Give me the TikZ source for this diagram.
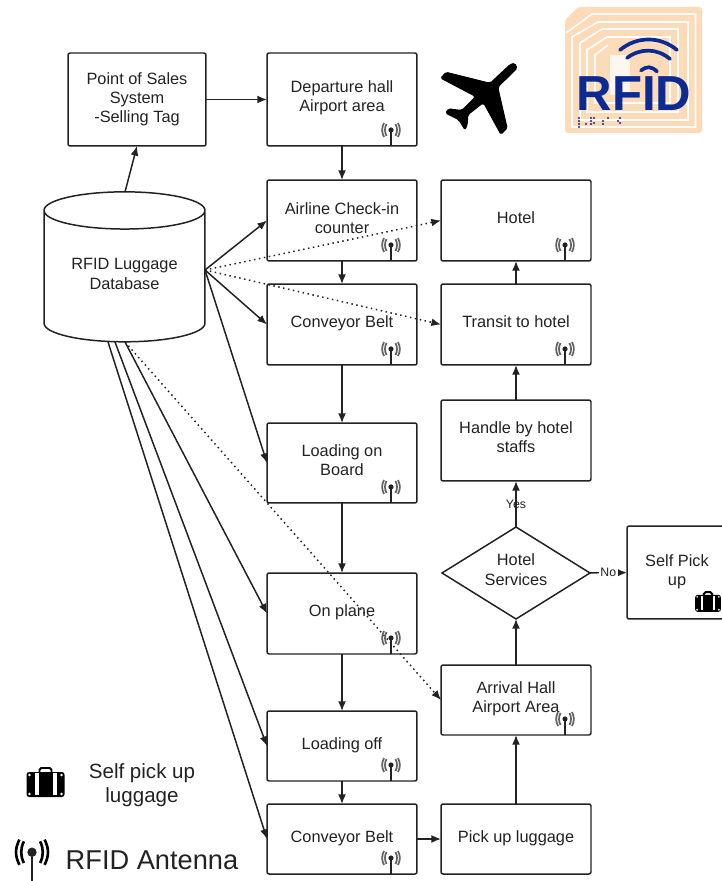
\documentclass[tikz,border=0pt]{standalone}
\usepackage{fontspec}
\setmainfont{Liberation Sans}
\usetikzlibrary{shapes.geometric,arrows.meta}
\definecolor{peche}{HTML}{FDDAB8}
\definecolor{bleurfid}{HTML}{0B2A94}
\definecolor{encre}{HTML}{222222}
\tikzset{
  boite/.style={draw=encre,line width=0.85pt,rounded corners=1.2pt,minimum width=3cm,inner sep=0pt,outer sep=0pt,align=center,text=encre,font=\fontsize{9.3}{10.9}\selectfont},
  fleche/.style={draw=encre,line width=0.85pt,-{Latex[length=5.5pt,width=4.5pt]}},
  pointille/.style={fleche,dotted,line width=0.85pt},
  petit/.style={text=encre,inner sep=1pt,font=\fontsize{7}{8}\selectfont},
  onde/.style={bleurfid,line width=2.1pt,line cap=round},
  spire/.style={white,line width=0.9pt},
  antenne/.pic={
    \draw [encre,line width=0.85pt] (0,0)--(0,-16);
    \fill [encre] (0,-16) circle (2.6);
    \draw (-4.5,-22) .. controls (-6.5,-18) and (-6.5,-14) .. (-4.5,-10);
    \draw (-7,-23) .. controls (-9.5,-18) and (-9.5,-14) .. (-7,-9);
    \draw (4.5,-22) .. controls (6.5,-18) and (6.5,-14) .. (4.5,-10);
    \draw (7,-23) .. controls (9.5,-18) and (9.5,-14) .. (7,-9);
  },
  valise/.pic={
    \fill [black,rounded corners=1.5] (-19,-12) rectangle (19,13);
    \draw [black,line width=1.1pt,rounded corners=1] (-6,-12)--(-6,-16)--(6,-16)--(6,-12);
    \fill [white] (-11,-11) rectangle (-7,11);
    \fill [white] (7,-11) rectangle (11,11);
    \fill [white] \foreach \u/\v in {-16/-9,16/-9,-16/10,16/10}{(\u,\v) circle (1.4)};
  },
}
\begin{document}
\begin{tikzpicture}[x=0.02cm,y=-0.02cm]
\useasboundingbox (0,0) rectangle (721,881);
% logo
\fill [peche,rounded corners=1.5] (565,20) -- (578,7) -- (702,7) -- (702,133) -- (565,133) -- cycle;
\draw [spire] (566,33)--(592,14)--(695.5,14)--(695.5,127)--(572,127)--(572,37)--(598,22)--(688,22)--(688,120)--(580,120)--(580,43)--(602,29)--(678,29)--(678,112)--(587,112)--(587,50)--(607,37)--(670,37)--(670,103)--(595,103)--(595,55)--(608,45);
\fill [white,opacity=.8] (610,55) rectangle (630,95);
\node at (634,93.5) [text=bleurfid,inner sep=0pt,font=\fontsize{28}{28}\bfseries\selectfont] (rfid) {RFID};
\draw [onde] (620,50) .. controls (637,36) and (660,36) .. (677,50);
\draw [onde] (627,58) .. controls (640,48) and (657,48) .. (670,59);
\draw [onde] (641,70.5) .. controls (647,66) and (651,66) .. (657,71.5);
\fill [bleurfid] \foreach \u/\v in {579/118,579/121,579/124,579/127,591/118,591/121,594/118,594/123,603/121,603/124,608/118,618/121,620/118,620/123,591/124,586/124}{(\u,\v) circle (1.1)};
% avion
\fill [black,rounded corners=1] (510,64)--(515,62.7)--(517.7,68.3)--(498.3,87.3)--(507.7,128.3)--(500.7,135)--(483.3,103.3)--(468.3,115)--(467.7,125)--(465,130.7)--(458.3,120)--(445,113.3)--(448.3,108.3)--(461.7,110)--(475,96.7)--(440,78.3)--(446,71.7)--(490,82.7)--cycle;
% boites
\node at (137,99.5) [boite,minimum width=2.76cm,minimum height=1.86cm] (vente) {Point of Sales\\System\\-Selling Tag};
\node at (342,99.5) [boite,minimum height=1.86cm] (depart) {Departure hall\\Airport area\\[-7pt]};
\node at (342,220.5) [boite,minimum height=1.62cm] (enreg) {Airline Check-in\\counter\\[-8pt]};
\node at (342,324.5) [boite,minimum height=1.62cm] (tapis) {Conveyor Belt\\[-8pt]};
\node at (342,463) [boite,minimum height=1.6cm] (charge) {Loading on\\Board\\[-8pt]};
\node at (342,613.5) [boite,minimum height=1.62cm] (avion) {On plane\\[-8pt]};
\node at (342,746) [boite,minimum height=1.4cm] (decharge) {Loading off\\[-8pt]};
\node at (342,839) [boite,minimum height=1.4cm] (tapisb) {Conveyor Belt\\[-8pt]};
\node at (516,839) [boite,minimum height=1.4cm] (retrait) {Pick up luggage\\[-8pt]};
\node at (516,700) [boite,minimum height=1.4cm] (arrivee) {Arrival Hall\\Airport Area\\[-8pt]};
\node at (516,573) [boite,diamond,rounded corners=0pt,aspect=1.6,minimum width=2.96cm,minimum height=1.84cm] (service) {Hotel\\Services\\[-7pt]};
\node at (516,440.5) [boite,minimum height=1.62cm] (staff) {Handle by hotel\\staffs\\[-7pt]};
\node at (516,324.5) [boite,minimum height=1.62cm] (transit) {Transit to hotel\\[-8pt]};
\node at (516,220.5) [boite,minimum height=1.62cm] (hotel) {Hotel\\[-8pt]};
\node at (677,572.5) [boite,minimum width=2cm,minimum height=1.86cm] (seul) {Self Pick\\up\\[-8pt]};
\node at (124.5,276.5) [boite,cylinder,rounded corners=0pt,shape border rotate=90,aspect=0.35,minimum width=3.22cm,minimum height=3cm] (base) {RFID Luggage\\Database\\[-8pt]};
% points de depart sur la base
\coordinate (droite) at (205,270);
\coordinate (hautb) at (125,192);
\coordinate (basa) at (125,342);
\coordinate (basb) at (115,342);
\coordinate (basc) at (108,342);
% liens
\draw [fleche] (hautb)--(vente.south);
\draw [fleche] (vente)--(depart);
\draw [fleche] (depart)--(enreg);
\draw [fleche] (enreg)--(tapis);
\draw [fleche] (tapis)--(charge);
\draw [fleche] (charge)--(avion);
\draw [fleche] (avion)--(decharge);
\draw [fleche] (decharge)--(tapisb);
\draw [fleche] (tapisb)--(retrait);
\draw [fleche] (retrait)--(arrivee);
\draw [fleche] (arrivee)--(service);
\draw [fleche] (service)--(staff) node [midway,petit] {Yes};
\draw [fleche] (staff)--(transit);
\draw [fleche] (transit)--(hotel);
\draw [fleche] (service)--(seul) node [midway,petit,fill=white] {No};
\draw [fleche] (droite)--(enreg.west);
\draw [fleche] (droite)--(tapis.west);
\draw [fleche] (droite)--(charge.west);
\draw [fleche] (basa)--(avion.west);
\draw [fleche] (basb)--(decharge.west);
\draw [fleche] (basc)--(tapisb.west);
\draw [pointille] (droite)--(hotel.west);
\draw [pointille] (droite)--(transit.west);
\draw [pointille] (basa)--(arrivee.west);
% antennes
\foreach \n in {depart,enreg,tapis,charge,avion,decharge,tapisb,arrivee,hotel,transit}
  \pic at ([xshift=-0.52cm]\n.south east) [line width=1pt,color=encre!70] {antenne};
\pic at (708,603) [scale=0.68] {valise};
% legende
\pic at (45.5,784) {valise};
\node at (142,785) [align=center,text=encre,inner sep=0pt,font=\fontsize{11.7}{14}\selectfont] (leg1) {Self pick up\\luggage};
\pic at (32,881) [scale=1.8,line width=1.5pt,color=black] {antenne};
\node at (152,860) [text=encre,inner sep=0pt,font=\fontsize{15.5}{18}\selectfont] (leg2) {RFID Antenna};
\end{tikzpicture}
\end{document}
